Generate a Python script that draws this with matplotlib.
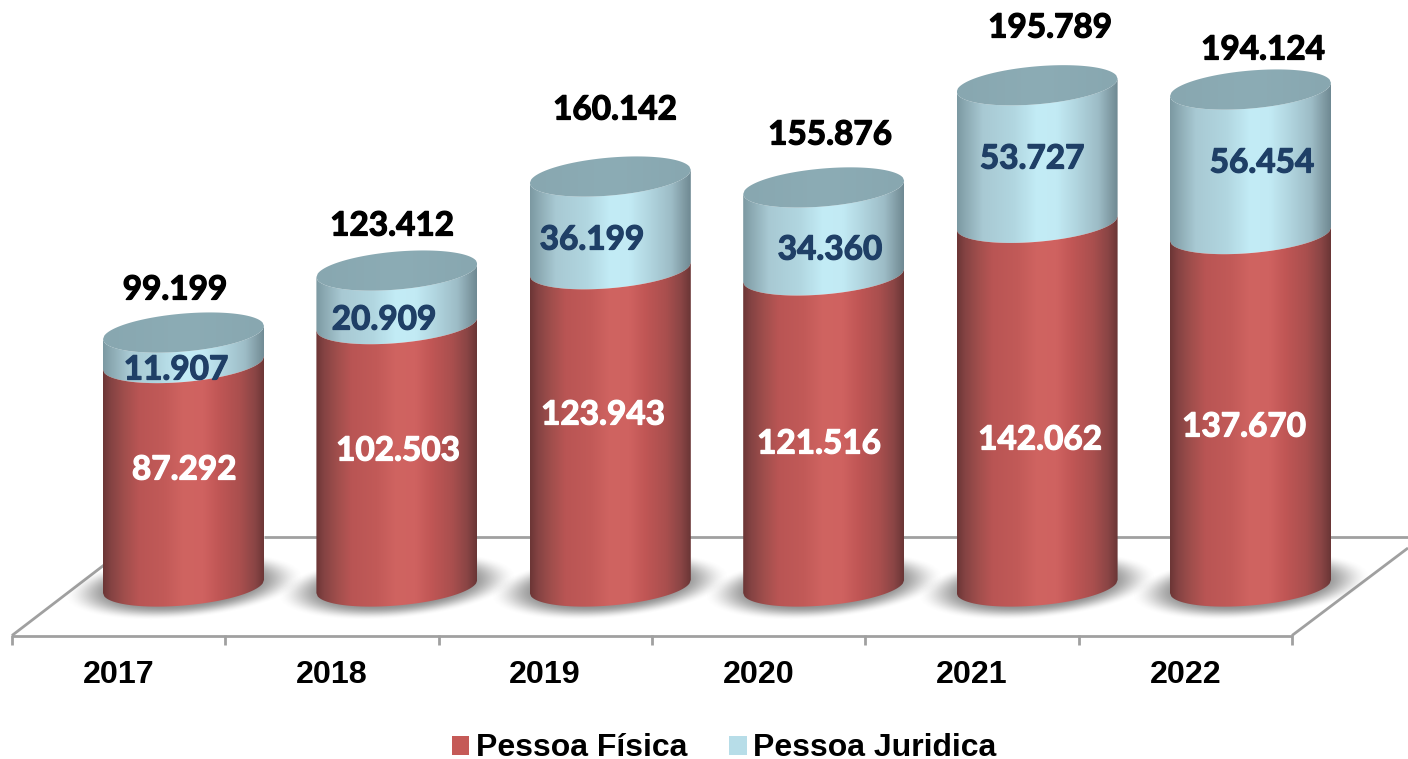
import numpy as np
import matplotlib
matplotlib.use("Agg")
import matplotlib.pyplot as plt
import matplotlib.patheffects as pe
from matplotlib.patches import Polygon, Patch
from matplotlib.colors import LinearSegmentedColormap
from matplotlib.transforms import Affine2D

# ---- data ----
years = ["2017", "2018", "2019", "2020", "2021", "2022"]
pessoa_fisica = [87292, 102503, 123943, 121516, 142062, 137670]
pessoa_juridica = [11907, 20909, 36199, 34360, 53727, 56454]
totals = [99199, 123412, 160142, 155876, 195789, 194124]
series_names = ["Pessoa Física", "Pessoa Juridica"]

def fmt(v):
    return f"{v:,}".replace(",", ".")

# ---- layout (pixels) ----
W, H = 1408, 759
X0, DX = 183.5, 213.4
Y0, PX_PER_UNIT = 586.5, 0.00256
A, B, SLOPE = 80.5, 19.0, 0.082
total_xy = [(175, 290), (392, 226), (615, 110), (830, 135), (1050, 28), (1263, 50)]
blue_xy = [(176, 370), (384, 320), (592, 240), (830, 250), (1032, 159), (1262, 163)]
red_xy = [(184, 470), (398, 451), (603, 415), (819, 444), (1040, 440), (1244, 427)]
tick_label_x = [118.5, 332, 545, 758.5, 972, 1185.5]
tick_x = [12, 225, 439, 652, 865, 1079, 1292]

fig = plt.figure(figsize=(W / 100, H / 100), dpi=100, facecolor="white")
ax = fig.add_axes([0, 0, 1, 1])
ax.set_axis_off()
ax.set_xlim(-X0 / DX, (W - X0) / DX)
ax.set_ylim((Y0 - H) / PX_PER_UNIT, Y0 / PX_PER_UNIT)
ax.set_autoscale_on(False)

# pixel coordinates (origin top-left) for the non-data furniture
px = Affine2D().scale(1, -1).translate(0, H)

GRAY = "#a0a0a0"
def line(xs, ys):
    ax.plot(xs, ys, color=GRAY, lw=2.0, transform=px, zorder=1, solid_capstyle="butt", clip_on=False)

line([264, 1408], [536.5, 536.5])
line([12, 1292], [635.5, 635.5])
line([12, 108], [635.5, 562])
line([1292, 1408], [635.5, 548])
for t in tick_x:
    line([t, t], [635, 645])

red_cmap = LinearSegmentedColormap.from_list("r", [
    (0.00, "#6c3636"), (0.05, "#854343"), (0.13, "#a04e4c"), (0.22, "#b95554"),
    (0.38, "#c25a58"), (0.50, "#d06461"), (0.62, "#cf6260"), (0.72, "#c05655"),
    (0.85, "#a94f4e"), (0.94, "#8a4545"), (1.00, "#6a3636")])
blue_cmap = LinearSegmentedColormap.from_list("b", [
    (0.00, "#7c99a2"), (0.06, "#8eacb5"), (0.16, "#a8c9d3"), (0.35, "#b1d6e0"),
    (0.50, "#c3ecf6"), (0.62, "#c2eaf4"), (0.75, "#b0d4de"), (0.88, "#9dbcc6"),
    (0.96, "#7f9aa3"), (1.00, "#6f8993")])
top_cmap = LinearSegmentedColormap.from_list("t", ["#88a7b0", "#8cacb5", "#88a7b0"])
grad = np.linspace(0, 1, 256).reshape(1, -1)

t = np.linspace(-1, 1, 120)
dx = t * A
arc = np.sqrt(np.clip(1 - t ** 2, 0, 1))

def to_data(i, v, ddx, ddy):
    """Category i, value v plus a pixel offset on screen -> data coordinates."""
    return np.column_stack([i + ddx / DX, v - ddy / PX_PER_UNIT])

def front(i, v):
    return to_data(i, v, dx, -SLOPE * dx + B * arc)

def back(i, v):
    return to_data(i, v, dx, -SLOPE * dx - B * arc)

def shaded(verts, cmap, i, v_lo, v_hi, z):
    patch = Polygon(verts, closed=True, transform=ax.transData, facecolor="none", edgecolor="none")
    ax.add_patch(patch)
    im = ax.imshow(grad, cmap=cmap, aspect="auto", interpolation="bilinear",
                   extent=[i - A / DX, i + A / DX, v_lo, v_hi], zorder=z)
    im.set_clip_path(patch)

def shadow(i):
    gx = np.linspace(-130, 130, 260)
    gy = np.linspace(-50, 50, 100)
    xx, yy = np.meshgrid(gx, gy)
    d = np.sqrt((xx / 120) ** 2 + ((yy + SLOPE * xx) / 33) ** 2)
    a = np.clip((1 - d) / 0.42, 0, 1)
    a = a * a * (3 - 2 * a) * 0.8
    rgba = np.zeros(a.shape + (4,))
    rgba[..., :3] = 0.46
    rgba[..., 3] = a
    ax.imshow(rgba, aspect="auto", interpolation="bilinear", zorder=2,
              extent=[i - 130 / DX, i + 130 / DX, -50 / PX_PER_UNIT, 50 / PX_PER_UNIT])

for i in range(len(years)):
    pf, pj = pessoa_fisica[i], pessoa_juridica[i]
    top = pf + pj
    shadow(i)
    pad = 60 / PX_PER_UNIT
    # upper (light blue) segment
    blue_poly = np.vstack([front(i, top), front(i, pf)[::-1]])
    shaded(blue_poly, blue_cmap, i, pf - pad, top + pad, 3)
    # lower (red) segment
    red_poly = np.vstack([front(i, pf), front(i, 0)[::-1]])
    shaded(red_poly, red_cmap, i, -pad, pf + pad, 4)
    # cap
    cap_poly = np.vstack([front(i, top), back(i, top)[::-1]])
    shaded(cap_poly, top_cmap, i, top - pad, top + pad, 5)

def label(xy, s, color):
    ax.text(*xy, s, color=color, family="Lato", weight="bold", fontsize=24, ha="center", va="center",
            transform=px, zorder=8,
            path_effects=[pe.withStroke(linewidth=0.9, foreground=color)])

for i in range(len(years)):
    label(total_xy[i], fmt(totals[i]), "black")
    label(blue_xy[i], fmt(pessoa_juridica[i]), "#1f3f66")
    label(red_xy[i], fmt(pessoa_fisica[i]), "white")
    ax.text(tick_label_x[i], 675, years[i], family="Liberation Sans", weight="bold",
            fontsize=23.2, ha="center", va="center", transform=px, color="black", zorder=8)

handles = [Patch(facecolor="#c55a57", edgecolor="none", label=series_names[0]),
           Patch(facecolor="#b7dde8", edgecolor="none", label=series_names[1])]
ax.legend(handles=handles, ncol=2, loc="center", bbox_to_anchor=(724 / W, (H - 748.5) / H),
          frameon=False, prop=dict(family="Liberation Sans", weight="bold", size=23),
          handlelength=0.55, handleheight=0.55, handletextpad=0.2, columnspacing=1.32,
          borderpad=0, borderaxespad=0)

fig.savefig("out.png", dpi=100)
